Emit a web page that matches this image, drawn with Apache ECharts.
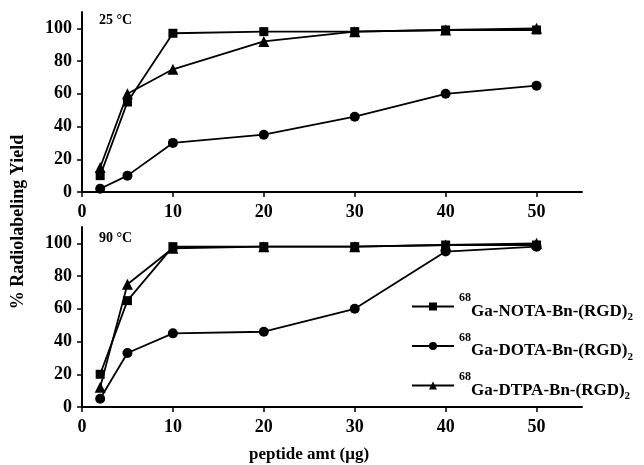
<!DOCTYPE html>
<html>
<head>
<meta charset="utf-8">
<script src="https://cdn.jsdelivr.net/npm/echarts@6/dist/echarts.min.js"></script>
<style>html,body{margin:0;padding:0;background:#fff;}#c{width:644px;height:465px;}</style>
</head>
<body>
<div id="c"></div>
<script>
var xValues = [2, 5, 10, 20, 30, 40, 50];
var xTicks = [0, 10, 20, 30, 40, 50];
var yTicks = [0, 20, 40, 60, 80, 100];
// 25 °C panel
var nota25 = [10, 55, 97, 98, 98, 99, 99];
var dota25 = [2, 10, 30, 35, 46, 60, 65];
var dtpa25 = [15, 60, 75, 92, 98, 99, 100];
// 90 °C panel
var nota90 = [20, 65, 98, 98, 98, 99, 99];
var dota90 = [5, 33, 45, 46, 60, 95, 98];
var dtpa90 = [12, 75, 97, 98, 98, 99, 100];
var panelLabels = ['25 °C', '90 °C'];
var seriesNames = ['NOTA', 'DOTA', 'DTPA'];
var legendLabels = {
  NOTA: '{sup|68}{main|Ga-NOTA-Bn-(RGD)}{sub|2}',
  DOTA: '{sup|68}{main|Ga-DOTA-Bn-(RGD)}{sub|2}',
  DTPA: '{sup|68}{main|Ga-DTPA-Bn-(RGD)}{sub|2}'
};
var xTitle = 'peptide amt (μg)';
var yTitle = '% Radiolabeling Yield';

var FONT = '"Liberation Serif", "DejaVu Serif", serif';
function pairs(ys) { return xValues.map(function (x, i) { return [x, ys[i]]; }); }

function xAxis(idx) {
  return {
    type: 'value', gridIndex: idx, min: 0, max: 55, interval: 10,
    axisLine: { lineStyle: { color: '#000', width: 2 } },
    axisTick: { show: true, length: 5, lineStyle: { color: '#000', width: 1.5 },
      customValues: xTicks },
    axisLabel: { color: '#000', fontFamily: FONT, fontWeight: 'bold', fontSize: 18, margin: 11,
      customValues: xTicks },
    splitLine: { show: false }
  };
}
function yAxis(idx) {
  return {
    type: 'value', gridIndex: idx, min: 0, max: 110, interval: 20,
    axisLine: { show: true, lineStyle: { color: '#000', width: 2 } },
    axisTick: { show: true, length: 5, lineStyle: { color: '#000', width: 1.5 },
      customValues: yTicks },
    axisLabel: { color: '#000', fontFamily: FONT, fontWeight: 'bold', fontSize: 18, margin: 10,
      customValues: yTicks },
    splitLine: { show: false }
  };
}
var symbols = { NOTA: ['rect', 9], DOTA: ['circle', 10], DTPA: ['triangle', 11] };
function mkSeries(name, ys, idx) {
  return {
    name: name, type: 'line', xAxisIndex: idx, yAxisIndex: idx,
    data: pairs(ys), symbol: symbols[name][0], symbolSize: symbols[name][1],
    itemStyle: { color: '#000' }, lineStyle: { color: '#000', width: 1.8 },
    emphasis: { disabled: true }, animation: false
  };
}

var chart = echarts.init(document.getElementById('c'), null, { renderer: 'canvas' });
chart.setOption({
  backgroundColor: '#fff',
  animation: false,
  grid: [
    { left: 82, top: 12, width: 500, height: 180 },
    { left: 82, top: 227, width: 500, height: 180 }
  ],
  xAxis: [xAxis(0), xAxis(1)],
  yAxis: [yAxis(0), yAxis(1)],
  legend: {
    orient: 'vertical', left: 411, top: 290, itemGap: 6.5, padding: 0,
    itemWidth: 42, itemHeight: 10,
    data: seriesNames,
    formatter: function (n) { return legendLabels[n]; },
    textStyle: {
      color: '#000', fontFamily: FONT, fontWeight: 'bold', fontSize: 17,
      rich: {
        sup: { fontFamily: FONT, fontWeight: 'bold', fontSize: 12, verticalAlign: 'top', lineHeight: 33, padding: [2, 0, 0, 0] },
        main: { fontFamily: FONT, fontWeight: 'bold', fontSize: 17, verticalAlign: 'middle', lineHeight: 33, padding: [10, 0, 0, 0] },
        sub: { fontFamily: FONT, fontWeight: 'bold', fontSize: 11, verticalAlign: 'bottom', lineHeight: 33 }
      }
    }
  },
  graphic: [
    { type: 'text', left: 99, top: 13, style: { text: panelLabels[0], font: 'bold 14px ' + FONT, fill: '#000' } },
    { type: 'text', left: 99, top: 231, style: { text: panelLabels[1], font: 'bold 14px ' + FONT, fill: '#000' } },
    { type: 'text', x: 309, y: 455, style: { text: xTitle, font: 'bold 17px ' + FONT, fill: '#000', align: 'center', verticalAlign: 'middle' } },
    { type: 'text', x: 18, y: 222, rotation: Math.PI / 2, style: { text: yTitle, font: 'bold 18px ' + FONT, fill: '#000', align: 'center', verticalAlign: 'middle' } }
  ],
  series: [
    mkSeries('NOTA', nota25, 0), mkSeries('DOTA', dota25, 0), mkSeries('DTPA', dtpa25, 0),
    mkSeries('NOTA', nota90, 1), mkSeries('DOTA', dota90, 1), mkSeries('DTPA', dtpa90, 1)
  ]
});
</script>
</body>
</html>
